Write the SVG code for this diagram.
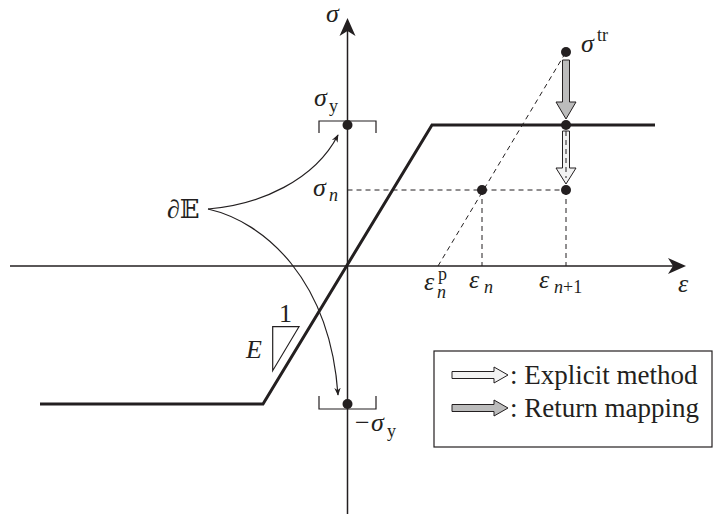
<svg xmlns="http://www.w3.org/2000/svg" width="715" height="518" viewBox="0 0 715 518">
<style>
.ax{stroke:#231f20;stroke-width:1.5;fill:none}
.curve{stroke:#231f20;stroke-width:3;fill:none;stroke-linejoin:miter}
.dash{stroke:#231f20;stroke-width:1;fill:none;stroke-dasharray:5 4}
.thin{stroke:#231f20;stroke-width:1.2;fill:none}
.dot{fill:#231f20}
text{font-family:"Liberation Serif","Times New Roman","DejaVu Serif",serif;fill:#231f20}
.m{font-style:italic;font-size:26px}
.r{font-size:26px}
.sub{font-size:18px}
.si{font-size:18px;font-style:italic}
.leg{font-size:27px}
.wa{fill:#f2f2f2;stroke:#231f20;stroke-width:1}
.ga{fill:#bcbcbc;stroke:#231f20;stroke-width:1}
</style>
<defs>
<marker id="ah" viewBox="0 0 10 10" refX="9" refY="5" markerWidth="8" markerHeight="8" markerUnits="userSpaceOnUse" orient="auto">
<path d="M0,1 L10,5 L0,9 L3,5 Z" fill="#231f20"/>
</marker>
</defs>
<g id="axes">
<line class="ax" x1="10" y1="266" x2="676" y2="266"/>
<path d="M686,266 L668,258 L673,266 L668,274 Z" fill="#231f20"/>
<line class="ax" x1="347.5" y1="514" x2="347.5" y2="28"/>
<path d="M347.5,18 L339.5,36 L347.5,31 L355.5,36 Z" fill="#231f20"/>
<text class="m" x="326" y="22">σ</text>
<text class="m" x="678" y="292">ε</text>
</g>
<g id="curve">
<polyline class="curve" points="40,404 263,404 432,125 655,125"/>
</g>
<g id="slope">
<polygon class="thin" points="272.7,326.7 299,326.7 272.7,370.7"/>
<text class="r" x="279" y="322">1</text>
<text class="m" x="246" y="358">E</text>
</g>
<g id="sigma-y">
<polyline class="thin" points="319,133 319,121 376,121 376,133"/>
<circle class="dot" cx="347.5" cy="125" r="5"/>
<text class="m" x="314" y="106">σ</text>
<text class="sub" x="329" y="112">y</text>
</g>
<g id="minus-sigma-y">
<polyline class="thin" points="319,396 319,409 376,409 376,396"/>
<circle class="dot" cx="347.5" cy="404" r="5"/>
<text class="r" x="355" y="431">−</text>
<text class="m" x="371" y="431">σ</text>
<text class="sub" x="387" y="437">y</text>
</g>
<g id="boundary">
<text class="r" x="167" y="218">∂𝔼</text>
</g>
<g id="connectors">
<path class="thin" d="M208,209 C260,205 315,180 338,135" marker-end="url(#ah)"/>
<path class="thin" d="M208,209 C265,222 330,280 338,395" marker-end="url(#ah)"/>
<line class="dash" x1="347.5" y1="190" x2="566" y2="190"/>
<line class="dash" x1="482" y1="190" x2="482" y2="266"/>
<line class="dash" x1="566" y1="190" x2="566" y2="266"/>
<line class="dash" x1="438" y1="266" x2="566" y2="52"/>
</g>
<g id="sigma-n">
<circle class="dot" cx="482" cy="190" r="5"/>
<text class="m" x="313" y="196">σ</text>
<text class="si" x="329" y="201">n</text>
</g>
<g id="eps-labels">
<text class="m" x="424" y="290">ε</text>
<text class="sub" x="438" y="280">p</text>
<text class="si" x="437" y="298">n</text>
<text class="m" x="469" y="288">ε</text>
<text class="si" x="484" y="293">n</text>
<text class="m" x="539" y="288">ε</text>
<text class="si" x="554" y="293">n<tspan font-style="normal">+1</tspan></text>
</g>
<g id="trial">
<circle class="dot" cx="566" cy="52" r="5"/>
<text class="m" x="581" y="52">σ</text>
<text class="sub" x="597" y="41">tr</text>
<path class="ga" d="M562.5,60 L569.5,60 L569.5,102 L576,102 L566,119 L556,102 L562.5,102 Z"/>
<circle class="dot" cx="566" cy="125" r="5"/>
<path class="wa" d="M562.5,131 L569.5,131 L569.5,168 L576,168 L566,184 L556,168 L562.5,168 Z"/>
<line class="dash" x1="566" y1="131" x2="566" y2="178"/>
<circle class="dot" cx="566" cy="190" r="5"/>
</g>
<g id="legend">
<rect x="434" y="351" width="278" height="96" fill="none" stroke="#231f20" stroke-width="1.2"/>
<path class="wa" d="M452,371.5 L494,371.5 L494,367 L508,375 L494,383 L494,378.5 L452,378.5 Z"/>
<text class="leg" x="510" y="384">: Explicit method</text>
<path class="ga" d="M452,404.5 L494,404.5 L494,400 L508,408 L494,416 L494,411.5 L452,411.5 Z"/>
<text class="leg" x="510" y="417">: Return mapping</text>
</g>
</svg>
